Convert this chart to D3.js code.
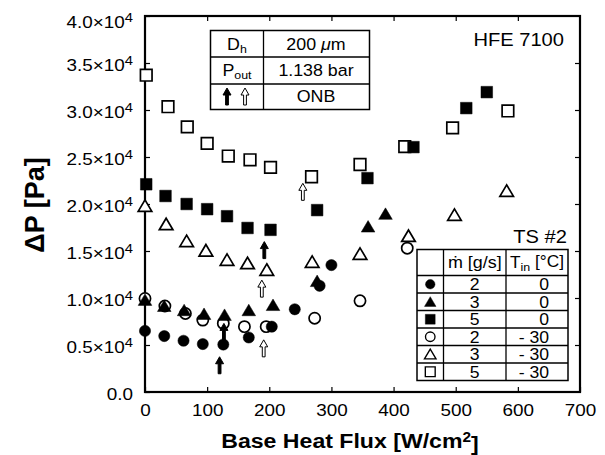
<!DOCTYPE html>
<html>
<head>
<meta charset="utf-8">
<script src="https://cdn.jsdelivr.net/npm/d3@7"></script>
<style>
  body { margin: 0; background: #fff; }
  text { font-family: "Liberation Sans", Arial, sans-serif; fill: #000; }
</style>
</head>
<body>
<script>
// heat flux [W/cm2] and pressure drop [Pa]
var q_2_T0   = [0, 31, 62, 93, 126, 167, 204, 241, 281, 300];
var dp_2_T0  = [6500, 5950, 5450, 5100, 5050, 5800, 6950, 8800, 11300, 13500];
var q_3_T0   = [0, 31, 63, 95, 128, 167, 206, 277, 359, 387];
var dp_3_T0  = [9800, 9150, 8700, 8300, 8200, 8700, 9250, 11800, 17600, 18950];
var q_5_T0   = [2, 33, 67, 100, 132, 165, 202, 277, 358, 432, 517, 550];
var dp_5_T0  = [22100, 20850, 20000, 19450, 18700, 17450, 17250, 19350, 22750, 26050, 30200, 31900];
var q_2_Tm30  = [0, 32, 65, 93, 126, 160, 195, 273, 346, 422];
var dp_2_Tm30 = [9950, 9150, 8350, 7650, 7300, 6950, 6950, 7850, 9700, 15300];
var q_3_Tm30  = [0, 34, 67, 98, 132, 165, 196, 269, 346, 424, 498, 582];
var dp_3_Tm30 = [19800, 17850, 16050, 15050, 14050, 13700, 13000, 13850, 14700, 16600, 18850, 21400];
var q_5_Tm30  = [2, 37, 68, 100, 134, 169, 202, 268, 346, 418, 495, 584];
var dp_5_Tm30 = [33700, 30350, 28200, 26450, 25100, 24700, 23900, 22900, 24200, 26100, 28100, 29900];

// ONB arrows: x position and tip height
var onbFilledQ   = [120, 127, 192];
var onbFilledTip = [3750, 7300, 16000];
var onbOpenQ     = [188, 191, 254];
var onbOpenTip   = [11900, 5550, 22200];

var xTicks = [0, 100, 200, 300, 400, 500, 600, 700];
var yTicks = [0, 5000, 10000, 15000, 20000, 25000, 30000, 35000, 40000];
var yTickLabels = ["0.0", "0.5", "1.0", "1.5", "2.0", "2.5", "3.0", "3.5", "4.0"];

var legendMdot = ["2", "3", "5", "2", "3", "5"];
var legendTin  = ["0", "0", "0", "- 30", "- 30", "- 30"];

var width = 605, height = 455;
var plotL = 145, plotR = 580, plotT = 16, plotB = 392;

var svg = d3.select("body").append("svg")
    .attr("width", width)
    .attr("height", height);

var x = d3.scaleLinear().domain([0, 700]).range([plotL, plotR]);
var y = d3.scaleLinear().domain([0, 40000]).range([plotB, plotT]);

// the original lettering is a bit wider than Liberation Sans
function stretch(sel, s) {
  sel.each(function() {
    var t = d3.select(this);
    var ax = +t.attr("x") || 0, ay = +t.attr("y") || 0;
    t.attr("transform", "translate(" + ax + "," + ay + ") scale(" + s + ",1) translate(" + (-ax) + "," + (-ay) + ")");
  });
}

// axes, ticks pointing inwards on all four sides
svg.append("g")
    .attr("transform", "translate(0," + plotB + ")")
    .call(d3.axisBottom(x).tickValues(xTicks).tickSizeInner(-5).tickSizeOuter(0).tickPadding(10))
    .call(function(g) {
      g.select(".domain").remove();
      g.attr("font-family", null).attr("font-size", null);
      g.selectAll("text").style("font-size", "16px").attr("dy", "0.85em").call(stretch, 1.18);
      g.selectAll("line").attr("stroke-width", 1.2);
    });

svg.append("g")
    .attr("transform", "translate(" + plotL + ",0)")
    .call(d3.axisLeft(y).tickValues(yTicks).tickSizeInner(-5).tickSizeOuter(0).tickPadding(12))
    .call(function(g) {
      g.select(".domain").remove();
      g.attr("font-family", null).attr("font-size", null);
      g.selectAll("line").attr("stroke-width", 1.2);
      g.selectAll("text")
        .style("font-size", "16px")
        .attr("dy", function(d) { return d === 40000 ? "0.7em" : "0.45em"; })
        .each(function(d, i) {
          var t = d3.select(this).text("");
          if (d === 0) { t.text("0.0"); return; }
          t.append("tspan").text(yTickLabels[i] + "\u00d710");
          t.append("tspan").attr("dy", "-0.42em").style("font-size", "12.5px").text("4");
        })
        .call(stretch, 1.18);
    });

svg.append("g")
    .attr("transform", "translate(0," + plotT + ")")
    .call(d3.axisTop(x).tickValues(xTicks.slice(1, -1)).tickSizeInner(-5).tickSizeOuter(0).tickFormat(""))
    .call(function(g) { g.select(".domain").remove(); g.selectAll("line").attr("stroke-width", 1.2); });

svg.append("g")
    .attr("transform", "translate(" + plotR + ",0)")
    .call(d3.axisRight(y).tickValues(yTicks.slice(1, -1)).tickSizeInner(-5).tickSizeOuter(0).tickFormat(""))
    .call(function(g) { g.select(".domain").remove(); g.selectAll("line").attr("stroke-width", 1.2); });

svg.append("rect")
    .attr("x", plotL).attr("y", plotT)
    .attr("width", plotR - plotL).attr("height", plotB - plotT)
    .attr("fill", "none").attr("stroke", "#000").attr("stroke-width", 2.2);

// axis titles
var xt = svg.append("text")
    .attr("x", 350).attr("y", 448)
    .attr("text-anchor", "middle")
    .style("font-size", "21px").style("font-weight", "bold");
xt.append("tspan").text("Base Heat Flux [W/cm");
xt.append("tspan").attr("dy", "-0.45em").style("font-size", "14px").text("2");
xt.append("tspan").attr("dy", "0.45em").text("]");
xt.call(stretch, 1.1);

svg.append("text")
    .attr("transform", "translate(44,205) rotate(-90)")
    .attr("text-anchor", "middle")
    .style("font-size", "27px").style("font-weight", "bold")
    .text("\u0394P [Pa]");

// marker shapes
function markerPath(shape) {
  if (shape === "circle") return "M-5.6,0A5.6,5.6 0 1,0 5.6,0A5.6,5.6 0 1,0 -5.6,0Z";
  if (shape === "triangle") return "M0,-6L6.8,5.5L-6.8,5.5Z";
  return "M-5.8,-5.8H5.8V5.8H-5.8Z";
}

function drawSeries(qs, dps, shape, filled) {
  svg.append("g").selectAll("path")
    .data(qs.map(function(q, i) { return [q, dps[i]]; }))
    .enter().append("path")
      .attr("transform", function(d) { return "translate(" + x(d[0]) + "," + y(d[1]) + ")"; })
      .attr("d", markerPath(shape))
      .attr("fill", filled ? "#000" : "#fff")
      .attr("stroke", "#000")
      .attr("stroke-width", filled ? 0.5 : 1.7);
}

drawSeries(q_5_Tm30, dp_5_Tm30, "square", false);
drawSeries(q_3_Tm30, dp_3_Tm30, "triangle", false);
drawSeries(q_2_Tm30, dp_2_Tm30, "circle", false);
drawSeries(q_5_T0, dp_5_T0, "square", true);
drawSeries(q_3_T0, dp_3_T0, "triangle", true);
drawSeries(q_2_T0, dp_2_T0, "circle", true);

// block arrow pointing up, tip at origin
var arrowPath = "M0,0L4,7H1.4V17H-1.4V7H-4Z";

function drawArrows(qs, tips, filled) {
  svg.append("g").selectAll("path")
    .data(qs.map(function(q, i) { return [q, tips[i]]; }))
    .enter().append("path")
      .attr("transform", function(d) { return "translate(" + x(d[0]) + "," + y(d[1]) + ")"; })
      .attr("d", arrowPath)
      .attr("fill", filled ? "#000" : "#fff")
      .attr("stroke", "#000")
      .attr("stroke-width", 1);
}
drawArrows(onbFilledQ, onbFilledTip, true);
drawArrows(onbOpenQ, onbOpenTip, false);

// info table, top left
var info = svg.append("g");
info.append("rect").attr("x", 210.5).attr("y", 30.5).attr("width", 159).attr("height", 79)
    .attr("fill", "#fff").attr("stroke", "#000").attr("stroke-width", 1.5);
info.append("line").attr("x1", 263.5).attr("x2", 263.5).attr("y1", 30.5).attr("y2", 109.5).attr("stroke", "#000").attr("stroke-width", 1.3);
[57, 84].forEach(function(yy) {
  info.append("line").attr("x1", 210.5).attr("x2", 369.5).attr("y1", yy).attr("y2", yy).attr("stroke", "#000").attr("stroke-width", 1.3);
});
var dh = info.append("text").attr("x", 237).attr("y", 50).attr("text-anchor", "middle").style("font-size", "16.5px");
dh.append("tspan").text("D");
dh.append("tspan").attr("dy", "0.3em").style("font-size", "11.5px").text("h");
var dhv = info.append("text").attr("x", 316).attr("y", 50).attr("text-anchor", "middle").style("font-size", "16.5px");
dhv.append("tspan").text("200 ");
dhv.append("tspan").style("font-style", "italic").text("\u03bc");
dhv.append("tspan").text("m");
var po = info.append("text").attr("x", 237).attr("y", 76).attr("text-anchor", "middle").style("font-size", "16.5px");
po.append("tspan").text("P");
po.append("tspan").attr("dy", "0.3em").style("font-size", "11.5px").text("out");
info.append("text").attr("x", 316).attr("y", 76).attr("text-anchor", "middle").style("font-size", "16.5px").text("1.138 bar");
info.append("text").attr("x", 316).attr("y", 102).attr("text-anchor", "middle").style("font-size", "16.5px").text("ONB");
info.selectAll("text").call(stretch, 1.08);
info.append("path").attr("transform", "translate(227,88)").attr("d", arrowPath).attr("fill", "#000").attr("stroke", "#000");
info.append("path").attr("transform", "translate(245,88)").attr("d", arrowPath).attr("fill", "#fff").attr("stroke", "#000");

svg.append("text").attr("x", 564).attr("y", 46).attr("text-anchor", "end").style("font-size", "17.5px").text("HFE 7100").call(stretch, 1.15);
svg.append("text").attr("x", 567).attr("y", 243).attr("text-anchor", "end").style("font-size", "17.5px").text("TS #2").call(stretch, 1.15);

// legend table, bottom right
var lg = svg.append("g");
var lgL = 417, lgR = 568, lgT = 249.5, lgB = 380.5, lgC1 = 443.5, lgC2 = 506, headB = 275.5;
var rowH = (lgB - headB) / 6;
lg.append("rect").attr("x", lgL).attr("y", lgT).attr("width", lgR - lgL).attr("height", lgB - lgT)
  .attr("fill", "#fff").attr("stroke", "#000").attr("stroke-width", 1.5);
[lgC1, lgC2].forEach(function(xx) {
  lg.append("line").attr("x1", xx).attr("x2", xx).attr("y1", lgT).attr("y2", lgB).attr("stroke", "#000").attr("stroke-width", 1.3);
});
d3.range(6).forEach(function(i) {
  var yy = headB + i * rowH;
  lg.append("line").attr("x1", lgL).attr("x2", lgR).attr("y1", yy).attr("y2", yy).attr("stroke", "#000").attr("stroke-width", 1.3);
});
lg.append("text").attr("x", (lgC1 + lgC2) / 2).attr("y", 268).attr("text-anchor", "middle")
  .style("font-size", "16px").text("\u1e41 [g/s]").call(stretch, 1.12);
var th = lg.append("text").attr("x", (lgC2 + lgR) / 2).attr("y", 268).attr("text-anchor", "middle").style("font-size", "16px");
th.append("tspan").text("T");
th.append("tspan").attr("dy", "0.3em").style("font-size", "11.5px").text("in");
th.append("tspan").attr("dy", "-0.3em").text(" [\u00b0C]");
th.call(stretch, 1.08);

var legendShapes = ["circle", "triangle", "square", "circle", "triangle", "square"];
legendShapes.forEach(function(s, i) {
  var cy = headB + (i + 0.5) * rowH;
  lg.append("path")
    .attr("transform", "translate(" + ((lgL + lgC1) / 2) + "," + cy + ") scale(0.85)")
    .attr("d", markerPath(s))
    .attr("fill", i < 3 ? "#000" : "#fff")
    .attr("stroke", "#000").attr("stroke-width", i < 3 ? 0.5 : 1.6);
  lg.append("text").attr("x", (lgC1 + lgC2) / 2).attr("y", cy + 6).attr("text-anchor", "middle")
    .style("font-size", "16px").text(legendMdot[i]).call(stretch, 1.1);
  lg.append("text").attr("x", 549).attr("y", cy + 6).attr("text-anchor", "end")
    .style("font-size", "16px").text(legendTin[i]).call(stretch, 1.1);
});
</script>
</body>
</html>
